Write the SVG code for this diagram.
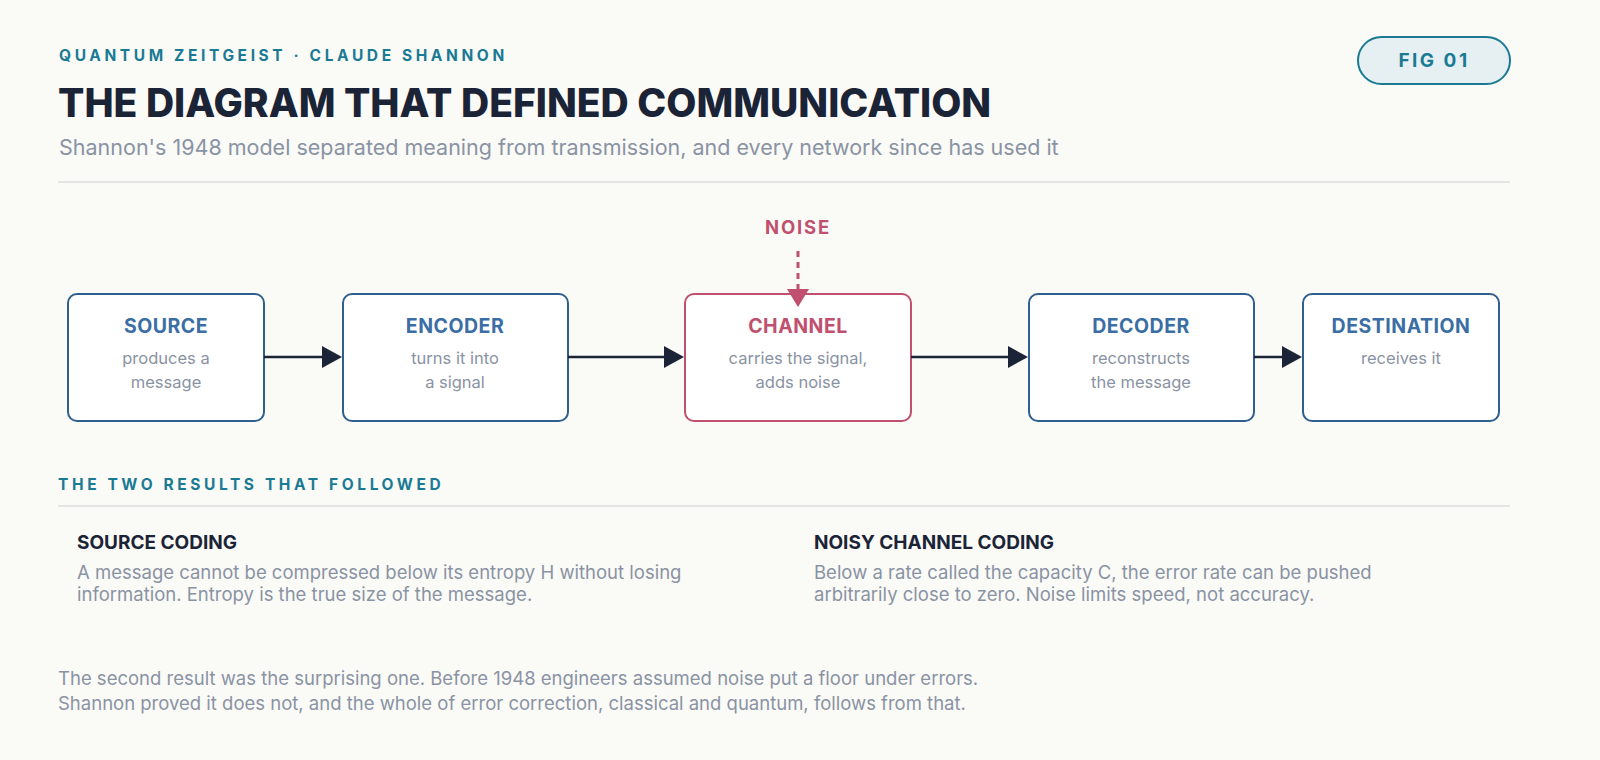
<svg xmlns="http://www.w3.org/2000/svg" width="1600" height="760" viewBox="0 0 1600 760">
<defs>
<style>
text{font-family:Inter,"Liberation Sans",sans-serif}
.box{fill:#fff;stroke:#2f5f8f;stroke-width:2}
.ch{fill:#fff;stroke:#c0506e;stroke-width:2}
.t{font-size:19.5px;font-weight:700;fill:#3a6ea5;text-anchor:middle;letter-spacing:0.5px}
.s{font-size:16.5px;fill:#8a93a3;text-anchor:middle}
.k{font-size:15.5px;font-weight:700;fill:#1a7a94;letter-spacing:3.6px}
.h{font-size:19px;font-weight:700;fill:#1b2436}
.b{font-size:18.5px;fill:#8a93a3}
.conn{stroke:#1b2436;stroke-width:2.5;fill:none}
</style>
</defs>
<rect width="1600" height="760" fill="#fafaf7"/>
<text x="59" y="61" class="k">QUANTUM ZEITGEIST · CLAUDE SHANNON</text>
<text x="58" y="117" font-size="39" font-weight="800" fill="#1b2436">THE DIAGRAM THAT DEFINED COMMUNICATION</text>
<text x="59" y="155" font-size="21.5" fill="#8a93a3">Shannon's 1948 model separated meaning from transmission, and every network since has used it</text>
<g id="fig"><rect x="1358" y="37" width="152" height="47" rx="23.5" fill="#e6f0f2" stroke="#1a7a94" stroke-width="2"/>
<text x="1434" y="67" font-size="19" font-weight="700" fill="#1a7a94" text-anchor="middle" letter-spacing="2.5">FIG 01</text></g>
<line x1="58" y1="182" x2="1510" y2="182" stroke="#dcdcdc" stroke-width="1.5"/>
<text x="798" y="234" font-size="18.5" font-weight="700" fill="#c0506e" text-anchor="middle" letter-spacing="1.8">NOISE</text>
<g id="source"><rect x="68" y="294" width="196" height="127" rx="9" class="box"/>
<text x="166" y="333" class="t">SOURCE</text><text x="166" y="364" class="s">produces a</text><text x="166" y="388" class="s">message</text></g>
<g id="encoder"><rect x="343" y="294" width="225" height="127" rx="9" class="box"/>
<text x="455" y="333" class="t">ENCODER</text><text x="455" y="364" class="s">turns it into</text><text x="455" y="388" class="s">a signal</text></g>
<g id="channel"><rect x="685" y="294" width="226" height="127" rx="9" class="ch"/>
<text x="798" y="333" class="t" style="fill:#c0506e">CHANNEL</text><text x="798" y="364" class="s">carries the signal,</text><text x="798" y="388" class="s">adds noise</text></g>
<g id="decoder"><rect x="1029" y="294" width="225" height="127" rx="9" class="box"/>
<text x="1141" y="333" class="t">DECODER</text><text x="1141" y="364" class="s">reconstructs</text><text x="1141" y="388" class="s">the message</text></g>
<g id="destination"><rect x="1303" y="294" width="196" height="127" rx="9" class="box"/>
<text x="1401" y="333" class="t">DESTINATION</text><text x="1401" y="364" class="s">receives it</text></g>
<g id="connectors">
<line x1="264" y1="357" x2="326" y2="357" class="conn"/>
<path d="M322,346 L342,357 L322,368 z" fill="#1b2436"/>
<line x1="568" y1="357" x2="668" y2="357" class="conn"/>
<path d="M664,346 L684,357 L664,368 z" fill="#1b2436"/>
<line x1="911" y1="357" x2="1012" y2="357" class="conn"/>
<path d="M1008,346 L1028,357 L1008,368 z" fill="#1b2436"/>
<line x1="1254" y1="357" x2="1286" y2="357" class="conn"/>
<path d="M1282,346 L1302,357 L1282,368 z" fill="#1b2436"/>
<line x1="798" y1="251" x2="798" y2="290" stroke="#c0506e" stroke-width="3" stroke-dasharray="6,5"/>
<path d="M787,289 L809,289 L798,307 z" fill="#c0506e"/>
</g>
<text x="58" y="490" class="k">THE TWO RESULTS THAT FOLLOWED</text>
<line x1="58" y1="506" x2="1510" y2="506" stroke="#dcdcdc" stroke-width="1.5"/>
<text x="77" y="549" class="h">SOURCE CODING</text>
<text x="77" y="579" class="b">A message cannot be compressed below its entropy H without losing</text>
<text x="77" y="601" class="b">information. Entropy is the true size of the message.</text>
<text x="814" y="549" class="h">NOISY CHANNEL CODING</text>
<text x="814" y="579" class="b">Below a rate called the capacity C, the error rate can be pushed</text>
<text x="814" y="601" class="b">arbitrarily close to zero. Noise limits speed, not accuracy.</text>
<text x="58" y="685" class="b">The second result was the surprising one. Before 1948 engineers assumed noise put a floor under errors.</text>
<text x="58" y="710" class="b">Shannon proved it does not, and the whole of error correction, classical and quantum, follows from that.</text>
</svg>
